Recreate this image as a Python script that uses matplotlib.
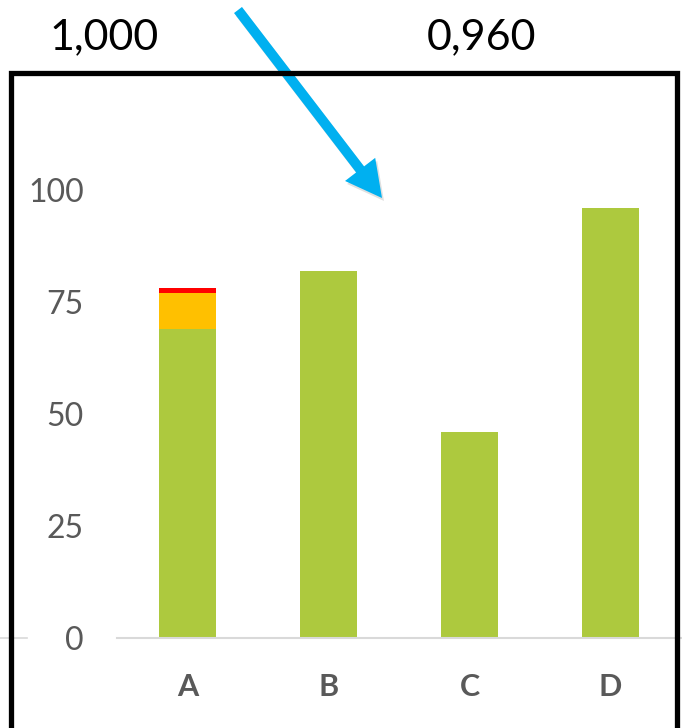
import matplotlib
matplotlib.use("Agg")
import matplotlib.pyplot as plt
from matplotlib.patches import FancyArrow
from matplotlib.lines import Line2D

categories = ["A", "B", "C", "D"]
green_vals = [69, 82, 46, 96]
orange_vals = [8, 0, 0, 0]
red_vals = [1.1, 0, 0, 0]
y_ticks = [0, 25, 50, 75, 100]
top_labels = ["1,000", "0,960"]

plt.rcParams['font.family'] = ['Lato', 'DejaVu Sans']

W, H = 682, 728
fig = plt.figure(figsize=(W / 100, H / 100), dpi=100)
fig.patch.set_facecolor("white")

ax = fig.add_axes([117 / W, (H - 638) / H, 564 / W, 448 / H])
x = list(range(len(categories)))
bw = 0.405
ax.bar(x, green_vals, width=bw, color="#ADC93E", zorder=2)
bottom2 = green_vals
ax.bar(x, orange_vals, width=bw, bottom=bottom2, color="#FFC000", zorder=2)
bottom3 = [g + o for g, o in zip(green_vals, orange_vals)]
ax.bar(x, red_vals, width=bw, bottom=bottom3, color="#FF0000", zorder=2)

ax.set_xlim(-0.5, 3.5)
ax.set_ylim(0, 100)
ax.set_yticks(y_ticks)
ax.set_yticklabels([str(t) for t in y_ticks], fontsize=23, color="#595959")
ax.set_xticks(x)
ax.set_xticklabels(categories, fontsize=22, fontweight="bold", color="#595959")
ax.tick_params(axis="y", length=0, pad=24)
ax.tick_params(axis="x", length=0, pad=25)
for s in ["top", "right", "left"]:
    ax.spines[s].set_visible(False)
ax.spines["bottom"].set_color("#D9D9D9")
ax.spines["bottom"].set_linewidth(1.5)
ax.set_facecolor("none")

# overlay in pixel coordinates
ov = fig.add_axes([0, 0, 1, 1])
ov.set_xlim(0, W)
ov.set_ylim(H, 0)
ov.axis("off")
ov.set_facecolor("none")

# gridline fragment outside box
ov.add_line(Line2D([0, 27], [637.5, 637.5], color="#D9D9D9", lw=1.2))

# black frame
lw = 3.8
ov.add_line(Line2D([11, 11, 677, 677], [H + 5, 72.5, 72.5, H + 5], color="black",
                   lw=lw, solid_joinstyle="miter", solid_capstyle="butt"))

ov.text(104, 37, top_labels[0], fontsize=31, ha="center", va="center", color="black")
ov.text(481, 37, top_labels[1], fontsize=31, ha="center", va="center", color="black")

# arrow with faint shadow
sx, sy, ex, ey = 238, 10, 382, 198
shadow = FancyArrow(sx + 2, sy + 3, ex - sx, ey - sy, width=10, head_width=38,
                    head_length=36, length_includes_head=True,
                    color="#000000", alpha=0.12, lw=0)
ov.add_patch(shadow)
arrow = FancyArrow(sx, sy, ex - sx, ey - sy, width=10, head_width=38,
                   head_length=36, length_includes_head=True,
                   color="#00B0F0", lw=0)
ov.add_patch(arrow)

fig.savefig("out.png", dpi=100, facecolor="white")
